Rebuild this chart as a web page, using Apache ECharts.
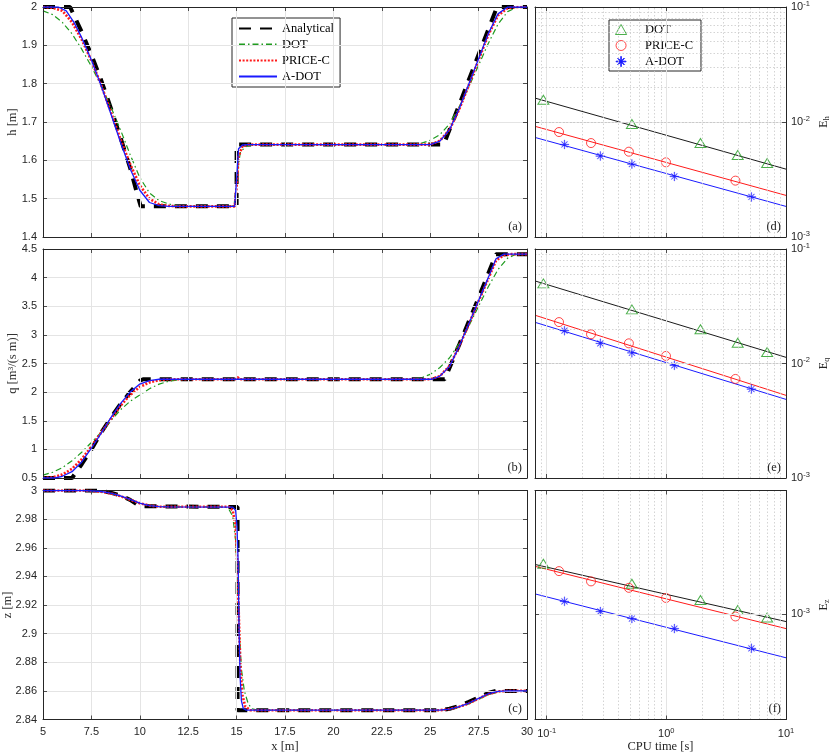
<!DOCTYPE html>
<html>
<head>
<meta charset="utf-8">
<script src="https://cdn.jsdelivr.net/npm/echarts@6/dist/echarts.min.js"></script>
<style>
html, body { margin: 0; padding: 0; background: #fff; }
#chart { width: 830px; height: 756px; }
</style>
</head>
<body>
<div id="chart"></div>
<script>
// ---- left column: profiles along x [m] ----
const hAnalytical = [[5,2.0],[6.4,2.0],[7,1.935],[7.5,1.875],[8,1.81],[8.5,1.737],[9,1.66],[9.5,1.58],[9.9,1.505],[10.05,1.48],[15.0,1.48],[15.0,1.641],[25.7,1.641],[26.5,1.745],[27.5,1.876],[28.45,2.0],[30,2.0]];
const hDOT = [[5,1.99],[5.5,1.98],[6,1.96],[6.5,1.93],[7,1.89],[7.5,1.845],[8,1.795],[8.5,1.74],[9,1.68],[9.5,1.615],[10,1.555],[10.5,1.515],[11,1.495],[11.5,1.486],[12,1.481],[12.5,1.48],[14.8,1.48],[14.95,1.5],[15.05,1.575],[15.2,1.622],[15.5,1.637],[16,1.641],[24,1.641],[24.5,1.644],[25,1.652],[25.5,1.667],[26,1.695],[26.5,1.74],[27,1.792],[27.5,1.848],[28,1.905],[28.5,1.955],[29,1.988],[29.5,2.0],[30,2.0]];
const hPRICE = [[5,2.0],[5.5,1.998],[6,1.99],[6.5,1.96],[7,1.915],[7.5,1.86],[8,1.797],[8.5,1.727],[9,1.655],[9.5,1.59],[10,1.535],[10.5,1.5],[11,1.485],[11.5,1.481],[12,1.48],[14.9,1.48],[15.0,1.53],[15.1,1.61],[15.3,1.637],[15.6,1.641],[25,1.641],[25.5,1.651],[26,1.68],[26.5,1.733],[27,1.797],[27.5,1.862],[28,1.927],[28.5,1.978],[29,1.997],[29.5,2.0],[30,2.0]];
const hADOT = [[5,2.0],[5.8,2.0],[6.2,1.99],[6.6,1.96],[7,1.92],[7.5,1.862],[8,1.795],[8.5,1.722],[9,1.648],[9.5,1.578],[10,1.522],[10.5,1.49],[11,1.482],[11.5,1.48],[14.9,1.48],[15.0,1.55],[15.1,1.63],[15.3,1.64],[15.6,1.641],[25,1.641],[25.5,1.65],[26,1.68],[26.5,1.735],[27,1.8],[27.5,1.865],[28,1.93],[28.5,1.982],[29,2.0],[30,2.0]];

const qAnalytical = [[5,0.5],[6.5,0.5],[7,0.74],[7.5,1.0],[8,1.29],[8.5,1.55],[9,1.79],[9.5,2.0],[10,2.2],[10.2,2.225],[25.75,2.225],[26.5,2.83],[27.5,3.65],[28.4,4.41],[30,4.41]];
const qDOT = [[5,0.55],[5.5,0.6],[6,0.68],[6.5,0.8],[7,0.95],[7.5,1.12],[8,1.3],[8.5,1.5],[9,1.69],[9.5,1.84],[10,1.95],[10.5,2.06],[11,2.14],[11.5,2.19],[12,2.215],[12.5,2.225],[24,2.225],[24.5,2.245],[25,2.31],[25.5,2.43],[26,2.6],[26.5,2.85],[27,3.16],[27.5,3.5],[28,3.84],[28.5,4.14],[29,4.34],[29.4,4.405],[30,4.41]];
const qPRICE = [[5,0.5],[5.5,0.51],[6,0.56],[6.5,0.66],[7,0.83],[7.5,1.05],[8,1.29],[8.5,1.53],[9,1.76],[9.5,1.95],[10,2.09],[10.5,2.17],[11,2.21],[11.5,2.225],[14.95,2.225],[15.05,2.26],[15.15,2.225],[25,2.225],[25.5,2.28],[26,2.46],[26.5,2.8],[27,3.19],[27.5,3.59],[28,3.98],[28.4,4.3],[28.8,4.39],[29.2,4.41],[30,4.41]];
const qADOT = [[5,0.5],[5.6,0.5],[6,0.53],[6.5,0.61],[7,0.78],[7.5,1.02],[8,1.28],[8.5,1.55],[9,1.8],[9.5,2.0],[10,2.14],[10.5,2.2],[11,2.225],[25.1,2.225],[25.5,2.28],[26,2.45],[26.5,2.8],[27,3.2],[27.5,3.6],[28,4.0],[28.4,4.33],[28.8,4.41],[30,4.41]];

const zAnalytical = [[5,3.0],[7.9,3.0],[8.5,2.9985],[9,2.9965],[9.5,2.9935],[10,2.989],[10.1,2.9885],[15.05,2.9885],[15.05,2.8465],[25.5,2.8465],[26,2.8475],[26.5,2.8495],[27,2.8523],[27.5,2.8555],[28,2.8585],[28.4,2.86],[30,2.86]];
const zDOT = [[5,3.0],[7,3.0],[7.5,2.9997],[8,2.999],[8.5,2.998],[9,2.996],[9.5,2.9935],[10,2.991],[10.5,2.9895],[11,2.9888],[11.5,2.9886],[14.4,2.9886],[14.6,2.987],[14.8,2.982],[14.95,2.965],[15.05,2.935],[15.15,2.9],[15.25,2.875],[15.4,2.86],[15.6,2.851],[15.8,2.8475],[16.1,2.8465],[25.5,2.8465],[26,2.8472],[26.5,2.8487],[27,2.851],[27.5,2.8542],[28,2.8573],[28.5,2.8593],[29,2.86],[30,2.86]];
const zPRICE = [[5,3.0],[7,3.0],[7.5,2.9997],[8,2.9991],[8.5,2.998],[9,2.996],[9.5,2.9936],[10,2.9911],[10.5,2.9895],[11,2.9887],[11.5,2.9886],[14.6,2.9886],[14.8,2.986],[14.95,2.975],[15.05,2.945],[15.12,2.91],[15.2,2.875],[15.3,2.857],[15.45,2.849],[15.7,2.8465],[25.5,2.8465],[26,2.8473],[26.5,2.8489],[27,2.8513],[27.5,2.8546],[28,2.8578],[28.5,2.8596],[29,2.86],[30,2.86]];
const zADOT = [[5,3.0],[7,3.0],[7.5,2.9998],[8,2.9993],[8.5,2.9982],[9,2.9963],[9.5,2.9938],[10,2.9912],[10.5,2.9895],[11,2.9888],[11.5,2.9886],[14.8,2.9884],[14.95,2.986],[15.02,2.975],[15.08,2.95],[15.13,2.9],[15.18,2.87],[15.25,2.853],[15.35,2.8475],[15.5,2.8465],[25.5,2.8465],[26,2.8473],[26.5,2.849],[27,2.8515],[27.5,2.8548],[28,2.858],[28.5,2.8597],[29,2.86],[30,2.86]];

// ---- right column: error vs CPU time [s] ----
const cpuDOT = [0.094, 0.516, 1.93, 3.95, 6.96];
const cpuPRICE = [0.127, 0.235, 0.487, 0.994, 3.78];
const cpuADOT = [0.141, 0.281, 0.516, 1.167, 5.14];

const errH_DOT = [0.0156, 0.0096, 0.00656, 0.00516, 0.0044];
const errH_PRICE = [0.00818, 0.00656, 0.00552, 0.00446, 0.00309];
const errH_ADOT = [0.00638, 0.00506, 0.00431, 0.00336, 0.00223];
const errQ_DOT = [0.0501, 0.0297, 0.0199, 0.0152, 0.0126];
const errQ_PRICE = [0.023, 0.018, 0.015, 0.01164, 0.00733];
const errQ_ADOT = [0.01936, 0.015, 0.0124, 0.00964, 0.00598];
const errZ_DOT = [1.778e-3, 1.413e-3, 1.175e-3, 1.047e-3, 9.62e-4];
const errZ_PRICE = [1.633e-3, 1.452e-3, 1.349e-3, 1.202e-3, 9.73e-4];
const errZ_ADOT = [1.156e-3, 1.03e-3, 9.5e-4, 8.47e-4, 6.76e-4];

// fitted trend lines, read at the two ends of the CPU axis
const fitX = [0.08, 10];
const fitH_DOT = [0.01614, 0.00389], fitH_PRICE = [0.00917, 0.0023], fitH_ADOT = [0.00734, 0.001845];
const fitQ_DOT = [0.0526, 0.01132], fitQ_PRICE = [0.0264, 0.00527], fitQ_ADOT = [0.0229, 0.00486];
const fitZ_DOT = [1.762e-3, 9.18e-4], fitZ_PRICE = [1.725e-3, 8.47e-4], fitZ_ADOT = [1.259e-3, 6.07e-4];

// axis settings
const xTicks = {min: 5, max: 30, interval: 2.5};
const leftY = [
  {min: 1.4, max: 2, interval: 0.1, name: 'h [m]', gap: 24},
  {min: 0.5, max: 4.5, interval: 0.5, name: 'q [m³/(s m)]', gap: 24},
  {min: 2.84, max: 3, interval: 0.02, name: 'z [m]', gap: 29}
];
const cpuRange = [0.08, 10];
const errRanges = [[1e-3, 1e-1], [1e-3, 1e-1], [3e-4, 4.1e-3]];
const errNames = ['h', 'q', 'z'];
const panelTags = ['(a)', '(d)', '(b)', '(e)', '(c)', '(f)'];

const AX = '#262626', GRID = '#e4e4e4', MINOR = '#c9c9c9';
const SANS = 'Liberation Sans', SERIF = 'Liberation Serif';
const GREEN = '#1f9b1f', RED = '#ff1a1a', BLUE = '#1a1aff';

const cols = [{left: 43, width: 484}, {left: 535, width: 251}];
const rows = [{top: 7, height: 230}, {top: 249, height: 229}, {top: 490.5, height: 229}];

const grids = [];
rows.forEach(r => cols.forEach(c => grids.push({
  left: c.left, width: c.width, top: r.top, height: r.height,
  containLabel: false, outerBoundsMode: 'none'
})));

const supRich = {
  b: {fontFamily: SANS, fontSize: 11, color: AX},
  sup: {fontFamily: SANS, fontSize: 7.5, color: AX, padding: [0, 0, 7, 0]}
};
const logLabel = v => {
  const l = Math.log10(v), e = Math.round(l);
  if (Math.abs(l - e) > 1e-6) return '';
  return '{b|10}{sup|' + e + '}';
};

function mkAxis(dim, g, mirror) {
  const row = Math.floor(g / 2), right = g % 2 === 1, last = row === 2;
  const a = {
    gridIndex: g,
    axisLine: {show: true, onZero: false, lineStyle: {color: AX, width: 1}},
    axisTick: {show: true, inside: true, length: 4, lineStyle: {color: AX, width: 0.8}},
    splitLine: {show: !mirror, lineStyle: {color: GRID, width: 1}},
    axisLabel: {show: false},
    nameMoveOverlap: false,
    z: 5
  };
  if (dim === 'x') a.position = mirror ? 'top' : 'bottom';
  else a.position = (right !== mirror) ? 'right' : 'left';

  if (right) {
    a.type = 'log';
    a.logBase = 10;
    const rng = dim === 'x' ? cpuRange : errRanges[row];
    a.min = rng[0];
    a.max = rng[1];
  } else {
    a.type = 'value';
    const t = dim === 'x' ? xTicks : leftY[row];
    a.min = t.min; a.max = t.max; a.interval = t.interval;
  }
  if (mirror) return a;

  if (dim === 'x' && last) {
    a.axisLabel = right
      ? {show: true, margin: 7, formatter: logLabel, rich: supRich}
      : {show: true, margin: 7, fontFamily: SANS, fontSize: 11, color: AX};
    a.name = right ? 'CPU time [s]' : 'x [m]';
    a.nameLocation = 'middle';
    a.nameGap = 21;
    a.nameTextStyle = {fontFamily: SERIF, fontSize: 12.5, color: AX};
  }
  if (dim === 'y') {
    a.nameLocation = 'middle';
    a.nameRotate = 90;
    if (right) {
      a.axisLabel = {show: true, margin: 5, formatter: logLabel, rich: supRich};
      a.name = '{e|E}{s|' + errNames[row] + '}';
      a.nameGap = 31;
      a.nameTextStyle = {rich: {
        e: {fontFamily: SERIF, fontSize: 12, color: AX},
        s: {fontFamily: SERIF, fontSize: 8, color: AX, padding: [6, 0, 0, 0]}
      }};
    } else {
      a.axisLabel = {show: true, margin: 6, fontFamily: SANS, fontSize: 11, color: AX};
      a.name = leftY[row].name;
      a.nameGap = leftY[row].gap;
      a.nameTextStyle = {fontFamily: SERIF, fontSize: 12.5, color: '#333'};
    }
  }
  return a;
}

const xAxes = [], yAxes = [];
for (let g = 0; g < 6; g++) {
  xAxes.push(mkAxis('x', g, false), mkAxis('x', g, true));
  yAxes.push(mkAxis('y', g, false), mkAxis('y', g, true));
}

// dotted minor grid lines of the log panels (2..9 of each decade)
function minorValues(lo, hi) {
  const out = [];
  for (let e = Math.floor(Math.log10(lo)); e < Math.ceil(Math.log10(hi)); e++) {
    for (let k = 2; k <= 9; k++) {
      const v = k * Math.pow(10, e);
      if (v > lo * 1.001 && v < hi * 0.999) out.push(v);
    }
  }
  return out;
}

const profileStyles = [
  {name: 'Analytical', color: '#000', width: 4, type: [12, 9], cap: 'butt'},
  {name: 'DOT', color: GREEN, width: 1.2, type: [6, 3, 1.5, 3], cap: 'butt'},
  {name: 'PRICE-C', color: RED, width: 2.6, type: [2, 1.6], cap: 'butt'},
  {name: 'A-DOT', color: BLUE, width: 1.3, type: 'solid', cap: 'butt'}
];
const profiles = [
  [hAnalytical, hDOT, hPRICE, hADOT],
  [qAnalytical, qDOT, qPRICE, qADOT],
  [zAnalytical, zDOT, zPRICE, zADOT]
];
const cpus = [cpuDOT, cpuPRICE, cpuADOT];
const errs = [
  [errH_DOT, errH_PRICE, errH_ADOT],
  [errQ_DOT, errQ_PRICE, errQ_ADOT],
  [errZ_DOT, errZ_PRICE, errZ_ADOT]
];
const fits = [
  [fitH_DOT, fitH_PRICE, fitH_ADOT],
  [fitQ_DOT, fitQ_PRICE, fitQ_ADOT],
  [fitZ_DOT, fitZ_PRICE, fitZ_ADOT]
];
const TRI = 'path://M50,0L100,90L0,90Z';
const STAR = 'path://M46,0L54,0L54,100L46,100Z M0,46L100,46L100,54L0,54Z M15,20L20,15L85,80L80,85Z M80,15L85,20L20,85L15,80Z';
const markers = [
  {name: 'DOT ', symbol: TRI, size: [11, 10], style: {color: 'transparent', borderColor: GREEN, borderWidth: 1}, fit: '#1a1a1a'},
  {name: 'PRICE-C ', symbol: 'circle', size: 9, style: {color: 'transparent', borderColor: RED, borderWidth: 1}, fit: RED},
  {name: 'A-DOT ', symbol: STAR, size: 9, style: {color: BLUE, borderColor: BLUE, borderWidth: 0.3}, fit: BLUE}
];

const series = [];
for (let row = 0; row < 3; row++) {
  const gl = row * 2, gr = row * 2 + 1;
  profileStyles.forEach((s, i) => {
    series.push({
      name: s.name, type: 'line', xAxisIndex: 2 * gl, yAxisIndex: 2 * gl,
      data: profiles[row][i], showSymbol: false, symbol: 'none', z: 2 + i,
      lineStyle: {color: s.color, width: s.width, type: s.type, cap: s.cap},
      itemStyle: {color: s.color}
    });
  });

  series.push({
    type: 'line', xAxisIndex: 2 * gr, yAxisIndex: 2 * gr, data: [], z: 1, silent: true,
    markLine: {
      silent: true, symbol: 'none', label: {show: false}, animation: false,
      lineStyle: {color: MINOR, width: 0.8, type: [1.5, 2]},
      data: minorValues(cpuRange[0], cpuRange[1]).map(v => ({xAxis: v}))
        .concat(minorValues(errRanges[row][0], errRanges[row][1]).map(v => ({yAxis: v})))
    }
  });

  markers.forEach((m, i) => {
    series.push({
      name: 'fit' + i, type: 'line', xAxisIndex: 2 * gr, yAxisIndex: 2 * gr,
      data: fitX.map((x, k) => [x, fits[row][i][k]]), showSymbol: false, symbol: 'none', z: 2,
      lineStyle: {color: m.fit, width: 1}
    });
    series.push({
      name: m.name, type: 'scatter', xAxisIndex: 2 * gr, yAxisIndex: 2 * gr,
      data: cpus[i].map((x, k) => [x, errs[row][i][k]]), z: 4,
      symbol: m.symbol, symbolSize: m.size, symbolKeepAspect: true, itemStyle: m.style
    });
  });
}

const graphic = panelTags.map((t, g) => ({
  type: 'text', z: 10,
  x: grids[g].left + grids[g].width - 5,
  y: grids[g].top + grids[g].height - 4,
  style: {text: t, font: '12.5px "Liberation Serif"', fill: AX, align: 'right', verticalAlign: 'bottom'}
}));

const chart = echarts.init(document.getElementById('chart'), null, {renderer: 'canvas'});
chart.setOption({
  animation: false,
  backgroundColor: '#fff',
  grid: grids,
  xAxis: xAxes,
  yAxis: yAxes,
  legend: [
    {
      data: profileStyles.map(s => s.name), orient: 'vertical', left: 232, top: 18,
      itemWidth: 38, itemHeight: 10, itemGap: 3, padding: [4, 6, 4, 6],
      backgroundColor: '#fff', borderColor: AX, borderWidth: 1, borderRadius: 0,
      selectedMode: false, itemStyle: {opacity: 0},
      textStyle: {fontFamily: SERIF, fontSize: 12.5, color: '#000'}
    },
    {
      data: markers.map(m => ({name: m.name, icon: m.symbol})), orient: 'vertical', left: 609, top: 20,
      itemWidth: 38, itemHeight: 10, itemGap: 3, padding: [3, 8, 3, 6],
      backgroundColor: '#fff', borderColor: AX, borderWidth: 1, borderRadius: 0,
      selectedMode: false, itemStyle: {borderWidth: 1},
      formatter: n => n.trim(),
      textStyle: {fontFamily: SERIF, fontSize: 12.5, color: '#000'}
    }
  ],
  graphic: graphic,
  series: series
});
</script>
</body>
</html>
